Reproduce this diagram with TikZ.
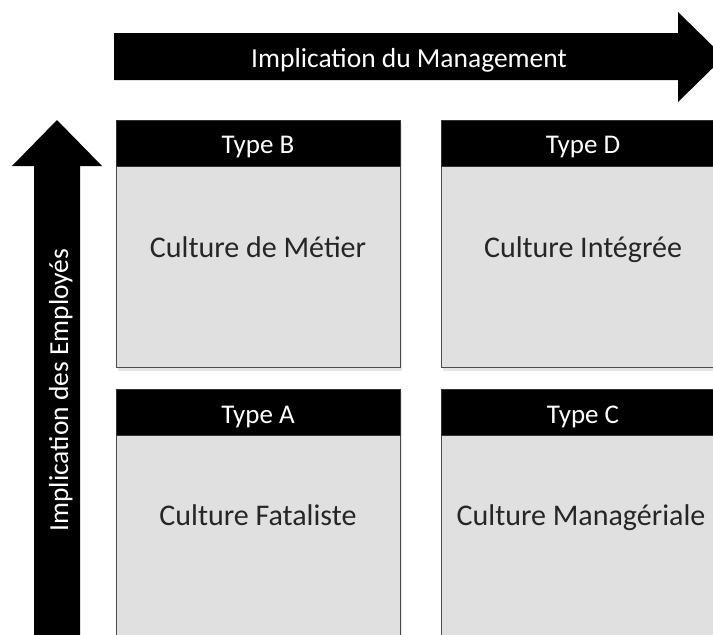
\documentclass[tikz,border=0pt]{standalone}
\usepackage{fontspec}
\setmainfont{Carlito}
\begin{document}
\begin{tikzpicture}[x=1pt,y=-1pt,
  arrowshape/.style={fill=black},
  head/.style={fill=black, draw=black!80, line width=0.8pt},
  body/.style={fill=black!12, draw=black!70, line width=0.8pt},
  shadow/.style={fill=black!10},
  headtxt/.style={text=white, anchor=base, inner sep=0pt, font=\fontsize{27}{32}\selectfont},
  bodytxt/.style={text=black!85, anchor=base, inner sep=0pt, font=\fontsize{30}{36}\selectfont},
  arrowtxt/.style={text=white, inner sep=0pt, font=\fontsize{27.5}{33}\selectfont}]
\useasboundingbox (0,0) rectangle (713,635);
\clip (0,0) rectangle (713,635);
% horizontal arrow
\fill[arrowshape] (114,33) -- (678,33) -- (678,12) -- (724,57) -- (678,102) -- (678,80) -- (114,80) -- cycle;
\node[arrowtxt, anchor=base] (mgmt) at (409,67) {Implication du Management};
% vertical arrow
\fill[arrowshape] (34,650) -- (34,166) -- (12,166) -- (57,120) -- (102,166) -- (80,166) -- (80,650) -- cycle;
\node[arrowtxt, rotate=90, anchor=base] (empl) at (68,390) {Implication des Employés};
% shadows
\foreach \x/\y/\h in {116/120/247, 441/120/247, 116/389/270, 441/389/270}{
  \fill[shadow] (\x+2,\y+3) rectangle (\x+286,\y+\h+4);
}
% Type B
\draw[body] (116,166) rectangle (400,367);
\fill[head] (116,120) rectangle (400,166);
\node[headtxt] (tb) at (258,153) {Type B};
\node[bodytxt] (cb) at (258,257) {Culture de Métier};
% Type D
\draw[body] (441,166) rectangle (725,367);
\fill[head] (441,120) rectangle (725,166);
\node[headtxt] (td) at (583,153) {Type D};
\node[bodytxt] (cd) at (583,257) {Culture Intégrée};
% Type A
\draw[body] (116,435) rectangle (400,660);
\fill[head] (116,389) rectangle (400,435);
\node[headtxt] (ta) at (258,423) {Type A};
\node[bodytxt] (ca) at (258,525) {Culture Fataliste};
% Type C
\draw[body] (441,435) rectangle (725,660);
\fill[head] (441,389) rectangle (725,435);
\node[headtxt] (tc) at (583,423) {Type C};
\node[bodytxt] (cc) at (581,525) {Culture Managériale};
\end{tikzpicture}
\end{document}
